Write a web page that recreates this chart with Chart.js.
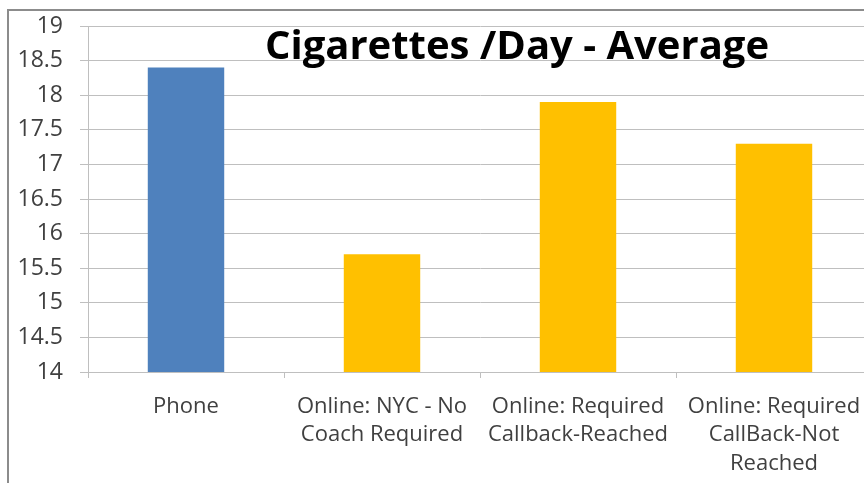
<!DOCTYPE html>
<html>
<head>
<meta charset="utf-8">
<script src="https://cdn.jsdelivr.net/npm/chart.js@4"></script>
<style>
  html, body { margin: 0; padding: 0; overflow: hidden; background: #fff; }
  #frame {
    position: absolute; left: 7px; top: 9px;
    width: 880px; height: 474px;
    border-left: 2px solid #8c8c8c; border-top: 2px solid #8c8c8c;
  }
</style>
</head>
<body>
<div id="frame"><canvas id="chart" width="880" height="474"></canvas></div>
<script>
const categories = [
  ['Phone'],
  ['Online: NYC - No', 'Coach Required'],
  ['Online: Required', 'Callback-Reached'],
  ['Online: Required', 'CallBack-Not', 'Reached']
];
const averages = [18.4, 15.7, 17.9, 17.3];
const barColors = ['#4f81bd', '#ffc000', '#ffc000', '#ffc000'];
const yMin = 14;
const yMax = 19;
const yStep = 0.5;
const chartTitle = 'Cigarettes /Day - Average';

const titleInside = {
  id: 'titleInside',
  afterDraw(chart) {
    const ctx = chart.ctx;
    ctx.save();
    ctx.font = 'bold 40px "Open Sans"';
    ctx.fillStyle = '#000';
    ctx.textAlign = 'center';
    ctx.textBaseline = 'middle';
    ctx.fillText(chartTitle, 508, 37);
    ctx.restore();
  }
};

Chart.defaults.font.family = '"Open Sans"';
Chart.defaults.color = '#404040';

new Chart(document.getElementById('chart'), {
  type: 'bar',
  data: {
    labels: categories,
    datasets: [{
      data: averages,
      backgroundColor: barColors,
      barPercentage: 1,
      categoryPercentage: 0.39
    }]
  },
  options: {
    responsive: false,
    animation: false,
    layout: { padding: { top: 15, right: 17, bottom: 0, left: 0 } },
    plugins: { legend: { display: false }, tooltip: { enabled: false } },
    scales: {
      x: {
        offset: true,
        grid: { display: true, drawOnChartArea: false, offset: true, tickLength: 6, color: '#bfbfbf' },
        border: { color: '#bfbfbf' },
        ticks: { font: { size: 22, lineHeight: 1.3 }, padding: 14, maxRotation: 0, autoSkip: false },
        afterFit(axis) { axis.height = 113; }
      },
      y: {
        min: yMin,
        max: yMax,
        ticks: {
          stepSize: yStep,
          font: { size: 23 },
          padding: 17,
          callback: (v) => String(v)
        },
        grid: { color: '#bfbfbf', tickLength: 8 },
        border: { color: '#bfbfbf' },
        afterFit(axis) {
          axis.width = 79;
          axis.paddingTop = 0;
          axis.paddingBottom = 0;
        }
      }
    }
  },
  plugins: [titleInside]
});
</script>
</body>
</html>
